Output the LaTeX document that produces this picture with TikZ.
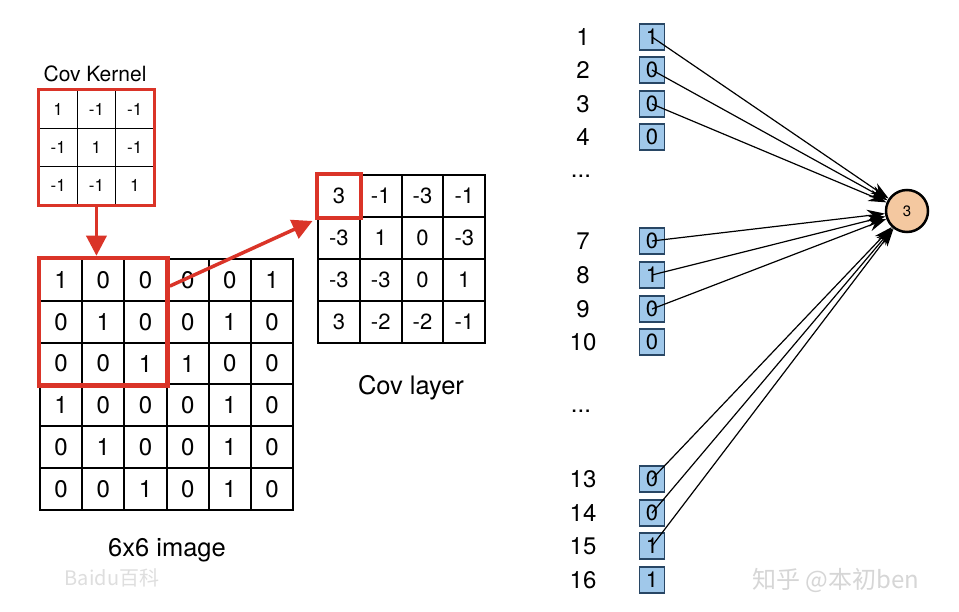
\documentclass[tikz,border=0pt]{standalone}
\usepackage{fontspec}
\setmainfont{TeX Gyre Heros}
\newfontfamily\cjk{Noto Sans CJK SC}
\usetikzlibrary{arrows.meta,fit,calc}
\definecolor{redc}{RGB}{218,52,40}
\definecolor{boxfill}{RGB}{160,200,234}
\definecolor{boxline}{RGB}{40,70,100}
\definecolor{neuronfill}{RGB}{244,200,160}
\definecolor{wm}{RGB}{214,214,214}
\tikzset{
  kcell/.style={draw=black,line width=1.4pt,minimum width=38.3pt,minimum height=38.3pt,inner sep=0pt,font=\fontsize{17}{17}\selectfont},
  gcell/.style={draw=black,line width=2pt,minimum width=42.2pt,minimum height=41.8pt,inner sep=0pt,font=\fontsize{24}{24}\selectfont},
  ccell/.style={draw=black,line width=2pt,minimum width=41.8pt,minimum height=42pt,inner sep=0pt,font=\fontsize{22}{22}\selectfont},
  redframe/.style={draw=redc,inner sep=0pt},
  redarrow/.style={draw=redc,line width=3.5pt,-{Triangle[length=20pt,width=20pt]}},
  lbl/.style={font=\fontsize{24}{24}\selectfont},
  caption/.style={font=\fontsize{25.5}{25.5}\selectfont},
  inbox/.style={draw=boxline,fill=boxfill,line width=1.5pt,minimum width=25pt,minimum height=26pt,inner sep=0pt,font=\fontsize{22}{22}\selectfont},
  conn/.style={draw=black,line width=1.2pt,-{Stealth[length=18pt,width=12pt]}},
  neuronstyle/.style={circle,draw=black,fill=neuronfill,line width=2.5pt,minimum size=42pt,inner sep=0pt,font=\fontsize{15}{15}\selectfont},
}
\begin{document}
\begin{tikzpicture}[x=1pt,y=-1pt]
\useasboundingbox[fill=white] (0,0) rectangle (959,612);

% kernel
\foreach \row [count=\i] in {{1,-1,-1},{-1,1,-1},{-1,-1,1}} {
  \foreach \v [count=\j] in \row {
    \node[kcell] (k\i\j) at ({39+38.3*(\j-0.5)},{90+38.3*(\i-0.5)}) {\v};
  }
}
\node[redframe,line width=3pt,fit=(k11)(k33)] (kernel) {};
\node[font=\fontsize{21}{21}\selectfont] (ktitle) at (95,74) {Cov Kernel};

% 6x6 image
\foreach \row [count=\i] in {{1,0,0,0,0,1},{0,1,0,0,1,0},{0,0,1,1,0,0},{1,0,0,0,1,0},{0,1,0,0,1,0},{0,0,1,0,1,0}} {
  \foreach \v [count=\j] in \row {
    \node[gcell] (g\i\j) at ({40+42.2*(\j-0.5)},{259+41.8*(\i-0.5)}) {\v};
  }
}
\node[redframe,line width=4.5pt,fit=(g11)(g33)] (win) {};
\node[caption] (imgcap) at (167,550) {6x6 image};

% conv layer
\foreach \row [count=\i] in {{3,-1,-3,-1},{-3,1,0,-3},{-3,-3,0,1},{3,-2,-2,-1}} {
  \foreach \v [count=\j] in \row {
    \node[ccell] (c\i\j) at ({318+41.8*(\j-0.5)},{175+42*(\i-0.5)}) {\v};
  }
}
\node[redframe,line width=3.5pt,fit=(c11)] (out) {};
\node[caption] (covcap) at (411,388) {Cov layer};

% red arrows
\draw[redarrow] (kernel.south) -- (kernel.south |- win.north);
\coordinate (wstart) at ($(win.north east)!0.23!(win.south east)$);
\draw[redarrow,shorten >=3pt] (wstart) -- (out.south west);

% right side: inputs
\foreach \n/\yy/\v in {1/37/1,2/70/0,3/104/0,4/137/0,7/241/0,8/275/1,9/309/0,10/342/0,13/479/0,14/513/0,15/546/1,16/580/1} {
  \node[lbl] (l\n) at (583,\yy) {\n};
  \node[inbox] (b\n) at (652,\yy) {\v};
}
\node[lbl] (dots1) at (581,176) {...};
\node[lbl] (dots2) at (581,411) {...};

\node[neuronstyle] (neuron) at (907,211) {3};
\foreach \n in {1,2,3,7,8,9,13,14,15} {
  \draw[conn] (b\n.center) -- (neuron);
}

% watermarks
\node[text=wm,font=\fontsize{24}{24}\selectfont\cjk] (wm1) at (836,580) {知乎 @本初ben};
\node[text=wm!80,font=\fontsize{20}{20}\selectfont\cjk] (wm2) at (112,578) {Baidu百科};
\end{tikzpicture}
\end{document}
